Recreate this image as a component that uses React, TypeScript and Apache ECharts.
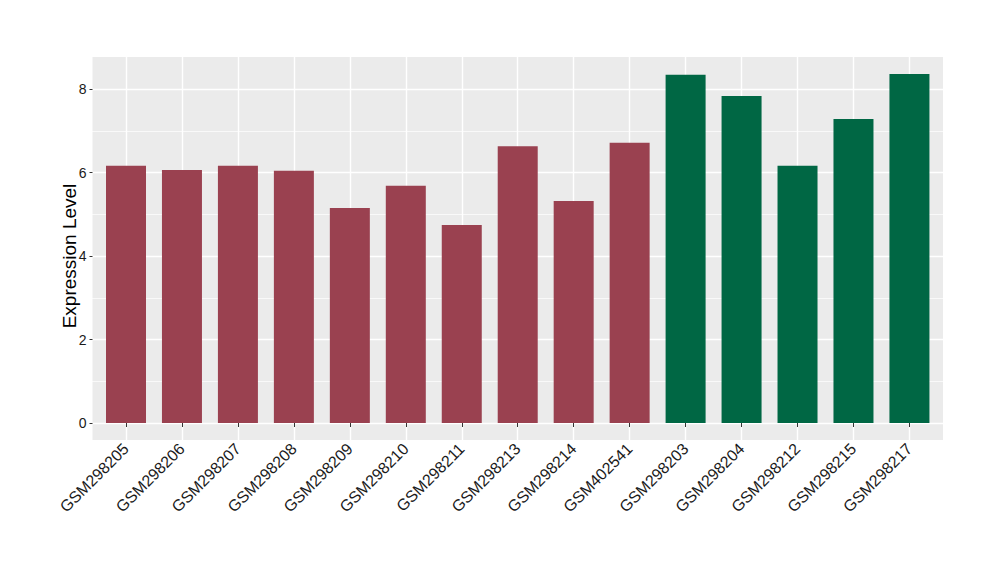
import React, { useEffect, useRef } from "react";
import * as echarts from "echarts";

const categories = [
  "GSM298205", "GSM298206", "GSM298207", "GSM298208", "GSM298209",
  "GSM298210", "GSM298211", "GSM298213", "GSM298214", "GSM402541",
  "GSM298203", "GSM298204", "GSM298212", "GSM298215", "GSM298217",
];
const values = [6.16, 6.06, 6.16, 6.04, 5.15, 5.68, 4.74, 6.63, 5.32, 6.71, 8.34, 7.83, 6.16, 7.28, 8.36];
const groups = ["A", "A", "A", "A", "A", "A", "A", "A", "A", "A", "B", "B", "B", "B", "B"];
const groupColors: Record<string, string> = { A: "#9A4150", B: "#006744" };
const yTicks = [0, 2, 4, 6, 8];

const FONT = "'Liberation Sans', Arial, Helvetica, sans-serif";

export default function App() {
  const ref = useRef<HTMLDivElement>(null);
  useEffect(() => {
    if (!ref.current) return;
    const chart = echarts.init(ref.current, null, { renderer: "svg" });
    const xPos = categories.map((_, i) => i + 1);
    chart.setOption({
      animation: false,
      backgroundColor: "#FFFFFF",
      grid: [
        {
          left: 92.5, top: 57, width: 850.5, height: 383,
          show: true, backgroundColor: "#EBEBEB", borderWidth: 0,
        },
        {
          left: 70.04, top: 5.5, width: 895.36, height: 501,
          show: false,
        },
      ],
      xAxis: [
        { gridIndex: 0, type: "value", show: false, min: 0, max: 1 },
        {
          gridIndex: 1, type: "value", min: 0, max: 16, interval: 1,
          offset: -66.5,
          axisLine: { show: false },
          axisTick: { show: true, length: 4, lineStyle: { color: "#333333", width: 1 }, customValues: xPos },
          axisLabel: {
            show: true, rotate: 45, margin: 6, fontSize: 16, color: "#1A1A1A", fontFamily: FONT,
            customValues: xPos,
            formatter: (v: number) => (Number.isInteger(v) && v >= 1 && v <= categories.length ? categories[v - 1] : ""),
          },
          splitLine: { show: true, lineStyle: { color: "#FFFFFF", width: 1.4 } },
        },
      ],
      yAxis: [
        { gridIndex: 0, type: "value", show: false, min: 0, max: 1 },
        {
          gridIndex: 1, type: "value", min: -2, max: 10, interval: 2,
          offset: -22.46,
          name: "Expression Level", nameLocation: "middle", nameGap: 14,
          nameMoveOverlap: false,
          nameTextStyle: { fontSize: 19, color: "#000000", fontFamily: FONT },
          axisLine: { show: false },
          axisTick: { show: true, length: 3, lineStyle: { color: "#333333", width: 1 }, customValues: yTicks },
          axisLabel: {
            show: true, margin: 6, fontSize: 14, color: "#1A1A1A", fontFamily: FONT,
            customValues: yTicks,
            formatter: (v: number) => (v >= 0 && v <= 8 ? String(v) : ""),
          },
          splitLine: { show: true, lineStyle: { color: "#FFFFFF", width: 1.4 } },
          minorTick: { show: false, splitNumber: 2 },
          minorSplitLine: { show: true, lineStyle: { color: "#FFFFFF", width: 0.7 } },
        },
      ],
      series: [
        {
          type: "bar",
          xAxisIndex: 1, yAxisIndex: 1,
          barWidth: 40,
          data: values.map((v, i) => ({
            value: [i + 1, v],
            itemStyle: { color: groupColors[groups[i]] },
          })),
        },
      ],
    });
    return () => chart.dispose();
  }, []);
  return <div ref={ref} style={{ position: "absolute", left: 0, top: 0, width: 1000, height: 580 }} />;
}
